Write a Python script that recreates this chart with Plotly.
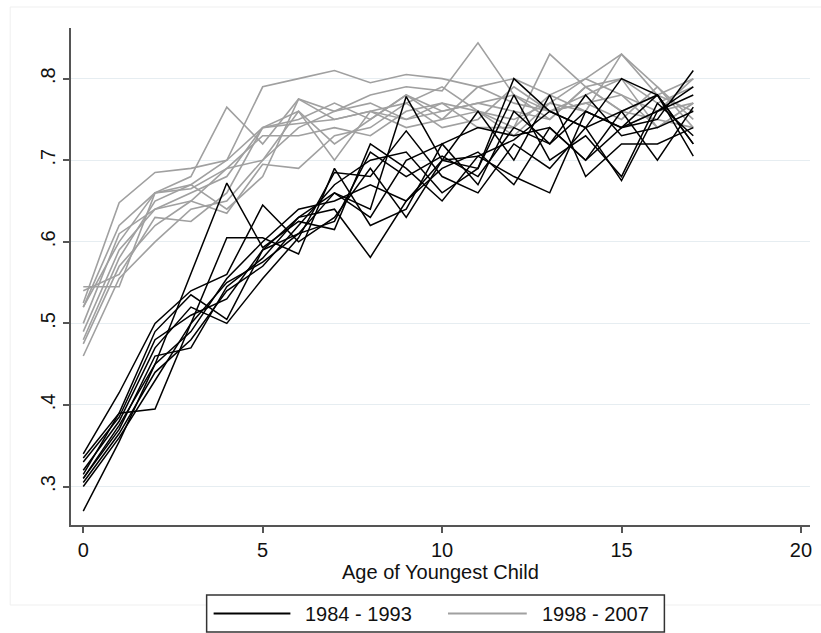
import plotly.graph_objects as go

ages = list(range(18))

# 1984 - 1993 cohort lines (black)
black_series = {
    "1984": [.270, .355, .450, .560, .672, .593, .625, .615, .720, .690, .650, .705, .725, .760, .740, .675, .760, .780],
    "1985": [.340, .415, .500, .540, .560, .645, .600, .630, .690, .630, .700, .690, .800, .760, .740, .760, .780, .720],
    "1986": [.335, .390, .490, .535, .505, .590, .630, .660, .640, .778, .700, .705, .680, .660, .760, .740, .750, .810],
    "1987": [.320, .380, .470, .520, .500, .555, .605, .685, .680, .736, .680, .660, .720, .690, .740, .800, .780, .705],
    "1988": [.315, .390, .395, .500, .605, .605, .585, .690, .620, .640, .720, .670, .760, .720, .760, .740, .780, .720],
    "1989": [.310, .370, .460, .470, .545, .580, .630, .640, .581, .650, .690, .710, .670, .740, .700, .760, .700, .765],
    "1990": [.305, .365, .440, .480, .540, .570, .620, .670, .700, .710, .660, .690, .780, .700, .730, .680, .770, .730],
    "1991": [.300, .360, .430, .500, .550, .575, .610, .660, .630, .700, .720, .740, .730, .740, .700, .740, .760, .790],
    "1992": [.310, .375, .450, .490, .555, .600, .640, .650, .670, .650, .700, .760, .700, .780, .680, .720, .720, .740],
    "1993": [.330, .385, .480, .510, .530, .590, .610, .625, .710, .680, .705, .680, .740, .720, .780, .730, .740, .760],
}

# 1998 - 2007 cohort lines (gray)
gray_series = {
    "1998": [.525, .648, .685, .690, .700, .790, .800, .810, .795, .805, .800, .790, .800, .780, .800, .830, .780, .760],
    "1999": [.545, .545, .660, .680, .765, .720, .775, .760, .780, .790, .785, .844, .780, .760, .770, .780, .760, .800],
    "2000": [.520, .600, .660, .670, .700, .740, .745, .750, .760, .770, .790, .760, .740, .830, .790, .760, .750, .740],
    "2001": [.500, .610, .640, .660, .680, .740, .760, .720, .750, .780, .760, .770, .760, .750, .790, .800, .770, .790],
    "2002": [.480, .580, .650, .670, .640, .680, .775, .750, .760, .740, .750, .790, .770, .760, .780, .800, .740, .770],
    "2003": [.475, .570, .620, .650, .690, .730, .730, .740, .730, .760, .770, .760, .750, .770, .760, .830, .790, .740],
    "2004": [.460, .555, .600, .640, .650, .700, .740, .760, .770, .750, .760, .770, .780, .750, .790, .760, .780, .800],
    "2005": [.490, .590, .640, .650, .635, .695, .690, .730, .740, .770, .740, .750, .790, .760, .770, .750, .790, .750],
    "2006": [.520, .620, .660, .665, .690, .700, .760, .700, .760, .750, .770, .740, .740, .780, .760, .740, .760, .770],
    "2007": [.540, .560, .630, .625, .660, .740, .750, .770, .750, .780, .750, .760, .730, .770, .800, .780, .740, .770],
}

x_ticks = [0, 5, 10, 15, 20]
y_ticks = [.3, .4, .5, .6, .7, .8]
y_tick_text = [".3", ".4", ".5", ".6", ".7", ".8"]
legend_labels = ["1984 - 1993", "1998 - 2007"]
x_title = "Age of Youngest Child"

BLACK = "#000000"
GRAY = "#a0a0a0"
FONT = "Liberation Sans, Arial, sans-serif"

fig = go.Figure()
for name, vals in gray_series.items():
    fig.add_trace(go.Scatter(x=ages, y=vals, mode="lines", name=name,
                             line=dict(color=GRAY, width=1.6), showlegend=False))
for name, vals in black_series.items():
    fig.add_trace(go.Scatter(x=ages, y=vals, mode="lines", name=name,
                             line=dict(color=BLACK, width=1.5), showlegend=False))

W, H = 821, 633
L, R, T, B = 71, 812, 28, 525


def px(xp):
    return (xp - L) / (R - L)


def py(yp):
    return (B - yp) / (B - T)


shapes = [
    # faint outer graph frame
    dict(type="rect", xref="paper", yref="paper", x0=px(10), x1=px(830), y0=py(605), y1=py(7),
         line=dict(color="#efefef", width=1), fillcolor="rgba(0,0,0,0)", layer="below"),
    # legend box
    dict(type="rect", xref="paper", yref="paper", x0=px(207), x1=px(666), y0=py(632), y1=py(595),
         line=dict(color="#333333", width=1.5), fillcolor="white", layer="above"),
    dict(type="line", xref="paper", yref="paper", x0=px(214), x1=px(291), y0=py(613.5), y1=py(613.5),
         line=dict(color=BLACK, width=1.8)),
    dict(type="line", xref="paper", yref="paper", x0=px(449), x1=px(528), y0=py(613.5), y1=py(613.5),
         line=dict(color=GRAY, width=1.8)),
]

annotations = [
    dict(xref="paper", yref="paper", x=px(304), y=py(613.5), text=legend_labels[0], showarrow=False,
         xanchor="left", yanchor="middle", font=dict(family=FONT, size=20, color="#111111")),
    dict(xref="paper", yref="paper", x=px(541), y=py(613.5), text=legend_labels[1], showarrow=False,
         xanchor="left", yanchor="middle", font=dict(family=FONT, size=20, color="#111111")),
    dict(xref="paper", yref="paper", x=px(441), y=py(572), text=x_title, showarrow=False,
         xanchor="center", yanchor="middle", font=dict(family=FONT, size=20, color="#111111")),
]

x_lo = -(83.3 - L) / 35.98
x_hi = (R - 83.3) / 35.98
y_lo = .3 - (B - 486.6) / 815.0
y_hi = .8 + (78.6 - T) / 815.0

fig.update_layout(
    width=W, height=H,
    margin=dict(l=L, r=W - R, t=T, b=H - B, pad=0),
    paper_bgcolor="white", plot_bgcolor="white",
    font=dict(family=FONT, size=20, color="#111111"),
    shapes=shapes, annotations=annotations,
    showlegend=False,
    xaxis=dict(range=[x_lo, x_hi], tickvals=x_ticks, ticks="outside", ticklen=6, tickwidth=1.5,
               tickcolor="#555555", showline=True, linecolor="#555555", linewidth=1.5,
               showgrid=False, zeroline=False, tickfont=dict(size=20, family=FONT, color="#111111")),
    yaxis=dict(range=[y_lo, y_hi], tickvals=y_ticks, ticktext=y_tick_text, tickangle=-90,
               ticks="outside", ticklen=6, tickwidth=1.5, tickcolor="#555555",
               showline=True, linecolor="#555555", linewidth=1.5,
               showgrid=True, gridcolor="#e6edf1", gridwidth=1.2, zeroline=False,
               tickfont=dict(size=20, family=FONT, color="#111111")),
)

fig.write_html("out.html")
